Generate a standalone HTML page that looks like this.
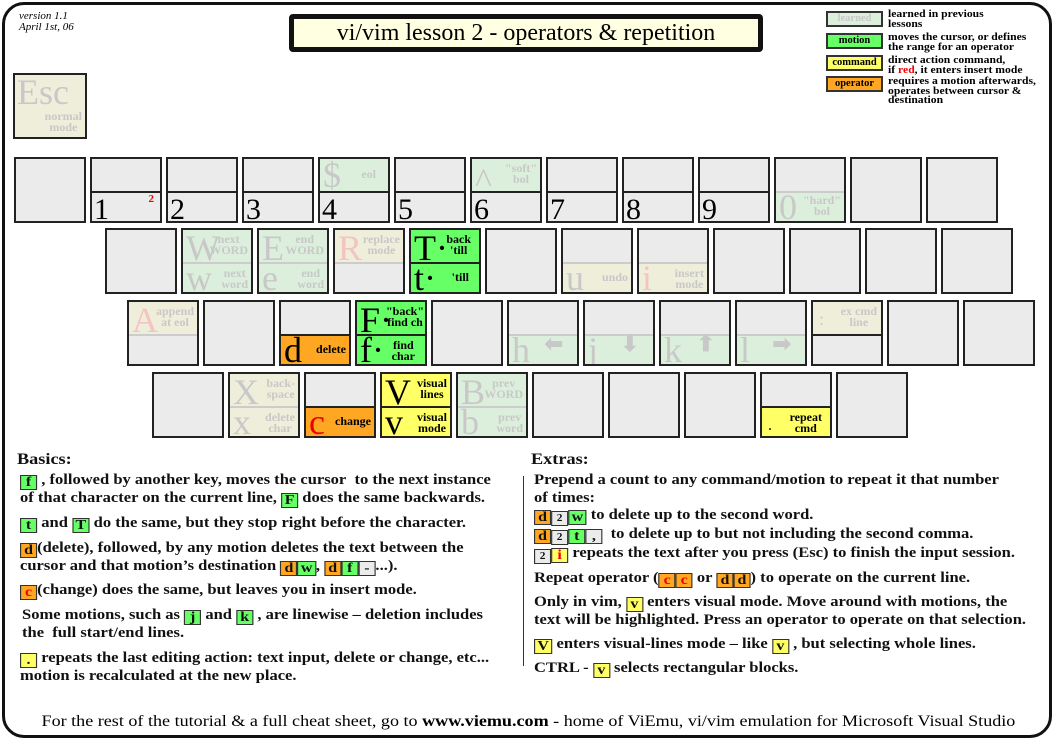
<!DOCTYPE html>
<html><head><meta charset="utf-8"><style>
*{margin:0;padding:0;box-sizing:border-box}
body{width:1057px;height:743px;background:#fff;position:relative;overflow:hidden;font-family:"Liberation Serif",serif}
.frame{position:absolute;left:2px;top:2px;width:1050px;height:736px;border:3px solid #111;border-radius:22px}
.k{position:absolute;width:72px;height:66px;border:2px solid #222;background:#ebebeb;overflow:hidden}
.h{position:absolute;left:0;right:0}
.t{top:0;height:32px}
.b{top:32px;bottom:0;border-top:2px solid #222}
.b.l{border-top:2px solid #ccc}
.g{background:#dcefdc}.y{background:#efeedb}.G{background:#66ff66}.Y{background:#ffff66}.O{background:#ffa722}
.L{position:absolute;left:3px;bottom:-4px;font-size:36px;line-height:1;color:#c8c8c8}
.dk .L{color:#000}
.s{position:absolute;right:3px;top:4px;font-size:12px;font-weight:bold;line-height:11px;text-align:center;color:#c8c8c8}
.dk .s{color:#000}
.n{position:absolute;left:2px;bottom:-4px;font-size:30px;line-height:1;color:#000}
.tx{position:absolute;font-weight:bold;font-size:14.5px;line-height:17.5px;color:#111;white-space:nowrap;transform:scaleX(1.14);transform-origin:0 0}
.c{display:inline-block;min-width:15px;height:15px;border:1px solid #333;text-align:center;line-height:13px;font-size:14px;vertical-align:-2px;padding:0 2px}
.lg{position:absolute;left:826px;width:57px;height:16px;border:2px solid #333;font-size:10.5px;font-weight:bold;text-align:center;line-height:12px}
.lt{position:absolute;left:888px;font-size:11px;font-weight:bold;line-height:9.5px;transform:scaleX(1.06);transform-origin:0 0}
</style></head><body>
<div class="frame"></div>
<div style="position:absolute;left:19px;top:11px;font-size:11px;font-style:italic;line-height:11px">version 1.1<br>April 1st, 06</div>
<div style="position:absolute;left:289px;top:14px;width:474px;height:38px;border:5px solid #111;border-radius:4px;background:#ffffe2;font-size:24px;text-align:center;line-height:28px">vi/vim lesson 2 - operators &amp; repetition</div>

<div class="lg g" style="top:11px;color:#c8c8c8">learned</div>
<div class="lg G" style="top:33px">motion</div>
<div class="lg Y" style="top:55px">command</div>
<div class="lg O" style="top:76px">operator</div>
<div class="lt" style="top:10px">learned in previous<br>lessons</div>
<div class="lt" style="top:33px">moves the cursor, or defines<br>the range for an operator</div>
<div class="lt" style="top:56px">direct action command,<br>if <span style="color:#e00">red</span>, it enters insert mode</div>
<div class="lt" style="top:77px">requires a motion afterwards,<br>operates between cursor &amp;<br>destination</div>

<div class="k y" style="left:13px;top:73px;height:66px;width:74px"><span style="position:absolute;left:2px;top:0;font-size:36px;color:#c8c8c8;line-height:34px">Esc</span><span class="s" style="top:36px">normal<br>mode</span></div>

<!-- row1 -->
<div class="k" style="left:14px;top:157px"></div>
<div class="k" style="left:90px;top:157px"><div class="h b"><span class="n">1</span><span style="position:absolute;right:6px;top:0;color:#e00;font-size:11px;font-weight:bold">2</span></div></div>
<div class="k" style="left:166px;top:157px"><div class="h b"><span class="n">2</span></div></div>
<div class="k" style="left:242px;top:157px"><div class="h b"><span class="n">3</span></div></div>
<div class="k" style="left:318px;top:157px"><div class="h t g"><span class="L" style="bottom:-2px">$</span><span class="s" style="top:10px;right:12px">eol</span></div><div class="h b"><span class="n">4</span></div></div>
<div class="k" style="left:394px;top:157px"><div class="h b"><span class="n">5</span></div></div>
<div class="k" style="left:470px;top:157px"><div class="h t g"><span class="L" style="bottom:-8px">^</span><span class="s">"soft"<br>bol</span></div><div class="h b"><span class="n">6</span></div></div>
<div class="k" style="left:546px;top:157px"><div class="h b"><span class="n">7</span></div></div>
<div class="k" style="left:622px;top:157px"><div class="h b"><span class="n">8</span></div></div>
<div class="k" style="left:698px;top:157px"><div class="h b"><span class="n">9</span></div></div>
<div class="k" style="left:774px;top:157px"><div class="h b l g"><span class="L">0</span><span class="s" style="top:2px">"hard"<br>bol</span></div></div>
<div class="k" style="left:850px;top:157px"></div>
<div class="k" style="left:926px;top:157px"></div>

<!-- row2 -->
<div class="k" style="left:105px;top:228px"></div>
<div class="k g" style="left:181px;top:228px"><div class="h t"><span class="L">W</span><span class="s">next<br>WORD</span></div><div class="h b l"><span class="L">w</span><span class="s">next<br>word</span></div></div>
<div class="k g" style="left:257px;top:228px"><div class="h t"><span class="L">E</span><span class="s">end<br>WORD</span></div><div class="h b l"><span class="L">e</span><span class="s">end<br>word</span></div></div>
<div class="k" style="left:333px;top:228px"><div class="h t y"><span class="L" style="color:#f3c4c4">R</span><span class="s">replace<br>mode</span></div><div class="h b l"></div></div>
<div class="k G dk" style="left:409px;top:228px"><div class="h t"><span class="L">T·</span><span class="s" style="right:8px">back<br>'till</span></div><div class="h b"><span class="L">t·</span><span class="s" style="top:8px;right:10px">'till</span></div></div>
<div class="k" style="left:485px;top:228px"></div>
<div class="k" style="left:561px;top:228px"><div class="h b l y"><span class="L">u</span><span class="s" style="top:8px">undo</span></div></div>
<div class="k" style="left:637px;top:228px"><div class="h b l y"><span class="L" style="color:#f3c4c4">i</span><span class="s">insert<br>mode</span></div></div>
<div class="k" style="left:713px;top:228px"></div>
<div class="k" style="left:789px;top:228px"></div>
<div class="k" style="left:865px;top:228px"></div>
<div class="k" style="left:941px;top:228px"></div>

<!-- row3 -->
<div class="k" style="left:127px;top:300px"><div class="h t y"><span class="L" style="color:#f3c4c4">A</span><span class="s">append<br>at eol</span></div><div class="h b l"></div></div>
<div class="k" style="left:203px;top:300px"></div>
<div class="k dk" style="left:279px;top:300px"><div class="h b O"><span class="L">d</span><span class="s" style="top:8px">delete</span></div></div>
<div class="k G dk" style="left:355px;top:300px"><div class="h t"><span class="L">F·</span><span class="s" style="right:1px">"back"<br>find ch</span></div><div class="h b"><span class="L">f·</span><span class="s" style="right:10px">find<br>char</span></div></div>
<div class="k" style="left:431px;top:300px"></div>
<div class="k" style="left:507px;top:300px"><div class="h b l g"><span class="L">h</span><span class="s" style="font-size:22px;top:2px;right:14px">⬅</span></div></div>
<div class="k" style="left:583px;top:300px"><div class="h b l g"><span class="L">j</span><span class="s" style="font-size:22px;top:2px;right:14px">⬇</span></div></div>
<div class="k" style="left:659px;top:300px"><div class="h b l g"><span class="L">k</span><span class="s" style="font-size:22px;top:2px;right:14px">⬆</span></div></div>
<div class="k" style="left:735px;top:300px"><div class="h b l g"><span class="L">l</span><span class="s" style="font-size:22px;top:2px;right:14px">➡</span></div></div>
<div class="k" style="left:811px;top:300px"><div class="h t y"><span class="L" style="font-size:18px;bottom:6px;left:6px">:</span><span class="s" style="right:4px">ex cmd<br>line</span></div><div class="h b"></div></div>
<div class="k" style="left:887px;top:300px"></div>
<div class="k" style="left:963px;top:300px"></div>

<!-- row4 -->
<div class="k" style="left:152px;top:372px"></div>
<div class="k y" style="left:228px;top:372px"><div class="h t"><span class="L">X</span><span class="s">back-<br>space</span></div><div class="h b l"><span class="L">x</span><span class="s">delete<br>char</span></div></div>
<div class="k dk" style="left:304px;top:372px"><div class="h b O"><span class="L" style="color:#e00">c</span><span class="s" style="top:8px">change</span></div></div>
<div class="k Y dk" style="left:380px;top:372px"><div class="h t"><span class="L">V</span><span class="s">visual<br>lines</span></div><div class="h b"><span class="L">v</span><span class="s">visual<br>mode</span></div></div>
<div class="k g" style="left:456px;top:372px"><div class="h t"><span class="L">B</span><span class="s">prev<br>WORD</span></div><div class="h b l"><span class="L">b</span><span class="s">prev<br>word</span></div></div>
<div class="k" style="left:532px;top:372px"></div>
<div class="k" style="left:608px;top:372px"></div>
<div class="k" style="left:684px;top:372px"></div>
<div class="k dk" style="left:760px;top:372px"><div class="h b Y"><span class="L" style="font-size:16px;left:6px;bottom:2px">.</span><span class="s" style="right:8px">repeat<br>cmd</span></div></div>
<div class="k" style="left:836px;top:372px"></div>

<!-- Basics -->
<div class="tx" style="left:17px;top:451px;font-size:16px">Basics:</div>
<div class="tx" style="left:20px;top:472px"><span class="c G">f</span> , followed by another key, moves the cursor&nbsp; to the next instance<br>of that character on the current line, <span class="c G">F</span> does the same backwards.</div>
<div class="tx" style="left:20px;top:515px"><span class="c G">t</span> and <span class="c G">T</span> do the same, but they stop right before the character.</div>
<div class="tx" style="left:20px;top:540px"><span class="c O">d</span>(delete), followed, by any motion deletes the text between the<br>cursor and that motion’s destination <span class="c O">d</span><span class="c G">w</span>, <span class="c O">d</span><span class="c G">f</span><span class="c" style="background:#ebebeb">-</span>...).</div>
<div class="tx" style="left:20px;top:582px"><span class="c O" style="color:#e00">c</span>(change) does the same, but leaves you in insert mode.</div>
<div class="tx" style="left:22px;top:607px">Some motions, such as <span class="c G">j</span> and <span class="c G">k</span> , are linewise – deletion includes<br>the&nbsp; full start/end lines.</div>
<div class="tx" style="left:20px;top:650px"><span class="c Y">.</span> repeats the last editing action: text input, delete or change, etc...<br>motion is recalculated at the new place.</div>

<!-- Extras -->
<div class="tx" style="left:531px;top:451px;font-size:16px">Extras:</div>
<div style="position:absolute;left:523px;top:476px;width:1px;height:190px;background:#333"></div>
<div class="tx" style="left:534px;top:472px">Prepend a count to any command/motion to repeat it that number<br>of times:<br><span class="c O">d</span><span class="c" style="background:#ebebeb;font-size:10px">2</span><span class="c G">w</span> to delete up to the second word.<br><span class="c O">d</span><span class="c" style="background:#ebebeb;font-size:10px">2</span><span class="c G">t</span><span class="c" style="background:#ebebeb">,</span>&nbsp; to delete up to but not including the second comma.<br><span class="c" style="background:#ebebeb;font-size:10px">2</span><span class="c Y" style="color:#e00">i</span> repeats the text after you press (Esc) to finish the input session.</div>
<div class="tx" style="left:534px;top:570px">Repeat operator (<span class="c O" style="color:#e00">c</span><span class="c O" style="color:#e00">c</span> or <span class="c O">d</span><span class="c O">d</span>) to operate on the current line.</div>
<div class="tx" style="left:534px;top:594px">Only in vim, <span class="c Y">v</span> enters visual mode. Move around with motions, the<br>text will be highlighted. Press an operator to operate on that selection.</div>
<div class="tx" style="left:534px;top:636px"><span class="c Y">V</span> enters visual-lines mode – like <span class="c Y">v</span> , but selecting whole lines.</div>
<div class="tx" style="left:534px;top:660px">CTRL - <span class="c Y">v</span> selects rectangular blocks.</div>

<div style="position:absolute;left:0;width:1057px;top:713px;text-align:center;font-size:16px;white-space:nowrap;transform:scaleX(1.13);transform-origin:529px 0">For the rest of the tutorial &amp; a full cheat sheet, go to <b>www.viemu.com</b> - home of ViEmu, vi/vim emulation for Microsoft Visual Studio</div>
</body></html>
